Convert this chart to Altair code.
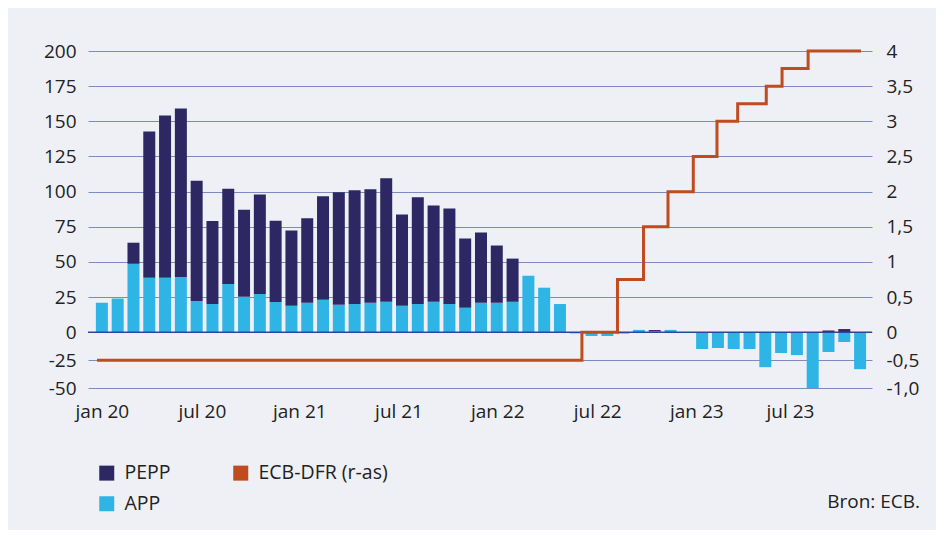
import altair as alt
import pandas as pd

# ---- data ----
month_index = list(range(49))  # jan 2020 ... jan 2024
app = [21, 24, 48.7, 38.7, 38.7, 39.4, 22.3, 20.2, 34.4, 25.2, 27.3, 21.6,
       18.8, 21, 23.1, 19.5, 20.2, 21, 21.7, 18.8, 20.2, 21.7, 20.2, 17.4,
       21, 21, 21.7, 40.2, 31.7, 20.1, -1, -3.3, -3.3, -1.2, 1.7, 0.8,
       1.7, -0.3, -15, -14.1, -15, -15, -31.3, -18.6, -20.5, -50, -17.7, -8.7,
       -33.1]
pepp = [0, 0, 15, 104, 115.5, 119.7, 85.5, 59, 67.7, 62, 70.6, 57.7,
        53.5, 60, 73.6, 80, 80.8, 80.7, 87.8, 65, 75.8, 68.5, 67.9, 49.3,
        50, 40.7, 30.7, 0, 0, 0, 0, 0, 0, 0, 0, 0.8,
        0, 0, 0, 0, 0, 0, 0, 0, 0, 0, 1.3, 2.3,
        0]

dfr_pos = [-0.31, 30.39, 32.64, 34.29, 35.84, 37.44, 38.94, 40.25, 42.06, 43.06, 44.71, 48.06]
dfr_val = [-0.5, 0, 0.75, 1.5, 2.0, 2.5, 3.0, 3.25, 3.5, 3.75, 4.0, 4.0]

tick_pos = [0, 6.33, 12.5, 18.78, 25.03, 31.36, 37.63, 43.56]
tick_labels = ["jan 20", "jul 20", "jan 21", "jul 21", "jan 22", "jul 22", "jan 23", "jul 23"]

left_ticks = [-50, -25, 0, 25, 50, 75, 100, 125, 150, 175, 200]
right_ticks = [-1, -0.5, 0, 0.5, 1, 1.5, 2, 2.5, 3, 3.5, 4]
right_labels = ["-1,0", "-0,5", "0", "0,5", "1", "1,5", "2", "2,5", "3", "3,5", "4"]

series_names = ["PEPP", "APP", "ECB-DFR (r-as)"]
series_colors = ["#2D2864", "#2FB5E5", "#BF4B1E"]

# ---- tables ----
rows = []
for m, a, p in zip(month_index, app, pepp):
    rows.append({"m": m, "series": "APP", "value": a, "ord": 0})
    rows.append({"m": m, "series": "PEPP", "value": p, "ord": 1})
bars_df = pd.DataFrame(rows)
dfr_df = pd.DataFrame({"pos": dfr_pos, "rate": dfr_val, "series": "ECB-DFR (r-as)"})

FONT = "Open Sans"
TXT = "#222222"
W, H = 784, 337

xscale = alt.Scale(domain=[-0.5625, 48.4375], nice=False, zero=False)
yl_scale = alt.Scale(domain=[-50, 0, 200], range=[H, 281.3, 0], nice=False, zero=False)
yr_scale = alt.Scale(domain=[-1, 0, 4], range=[H, 281.3, 0], nice=False, zero=False)
color_scale = alt.Scale(domain=series_names, range=series_colors)

pos_js = "[" + ",".join(str(v) for v in tick_pos) + "]"
lab_js = "[" + ",".join("'" + s + "'" for s in tick_labels) + "]"
rpos_js = "[" + ",".join(str(v) for v in right_ticks) + "]"
rlab_js = "[" + ",".join("'" + s + "'" for s in right_labels) + "]"

x_axis = alt.Axis(values=tick_pos, labelExpr=f"{lab_js}[indexof({pos_js}, datum.value)]",
                  title=None, grid=False, domain=False, ticks=False, labelPadding=14,
                  labelFlush=False, labelOverlap=False)
yl_axis = alt.Axis(values=left_ticks, labelExpr="'' + datum.value", title=None,
                   orient="left", grid=True, gridColor="#7D8AC0", gridWidth=1.2,
                   domain=False, ticks=False, labelPadding=12, labelOverlap=False)
yr_axis = alt.Axis(values=right_ticks, labelExpr=f"{rlab_js}[indexof({rpos_js}, datum.value)]",
                   title=None, orient="right", grid=False, domain=False, ticks=False,
                   labelPadding=14, labelOverlap=False)

bars = alt.Chart(bars_df).mark_bar(width=12).encode(
    x=alt.X("m:Q", scale=xscale, axis=x_axis),
    y=alt.Y("value:Q", stack="zero", scale=yl_scale, axis=yl_axis),
    color=alt.Color("series:N", scale=color_scale,
                    legend=alt.Legend(title=None, orient="none", legendX=9, legendY=412,
                                      columns=2, gridAlign="each",
                                      symbolType="square", symbolSize=225,
                                      symbolStrokeWidth=0, columnPadding=60, rowPadding=10,
                                      labelOffset=8, padding=0,
                                      labelFont=FONT, labelFontSize=19.5, labelColor=TXT)),
    order=alt.Order("ord:Q", sort="ascending"),
)

zero_rule = alt.Chart(pd.DataFrame({"value": [0]})).mark_rule(
    color="#2A47A0", strokeWidth=1.6
).encode(y=alt.Y("value:Q", scale=yl_scale, axis=yl_axis))

left = alt.layer(bars, zero_rule)

line = alt.Chart(dfr_df).mark_line(interpolate="step-after", strokeWidth=3).encode(
    x=alt.X("pos:Q", scale=xscale, axis=x_axis),
    y=alt.Y("rate:Q", scale=yr_scale, axis=yr_axis),
    color=alt.Color("series:N", scale=color_scale, legend=None),
)

source = alt.Chart(pd.DataFrame({"t": ["Bron: ECB."]})).mark_text(
    align="right", baseline="middle", font=FONT, fontSize=19, color=TXT
).encode(text="t:N", x=alt.value(832), y=alt.value(451))

chart = alt.layer(left, line, source).resolve_scale(y="independent").properties(
    width=W, height=H,
    padding={"left": 80, "top": 43, "right": 64, "bottom": 142},
    autosize=alt.AutoSizeParams(type="none"),
    background="#EFF0F5",
).configure_view(stroke=None).configure_axis(
    labelFont=FONT, labelFontSize=19, labelColor=TXT
)

chart.save("out.html", embed_options={"renderer": "svg", "actions": False})
